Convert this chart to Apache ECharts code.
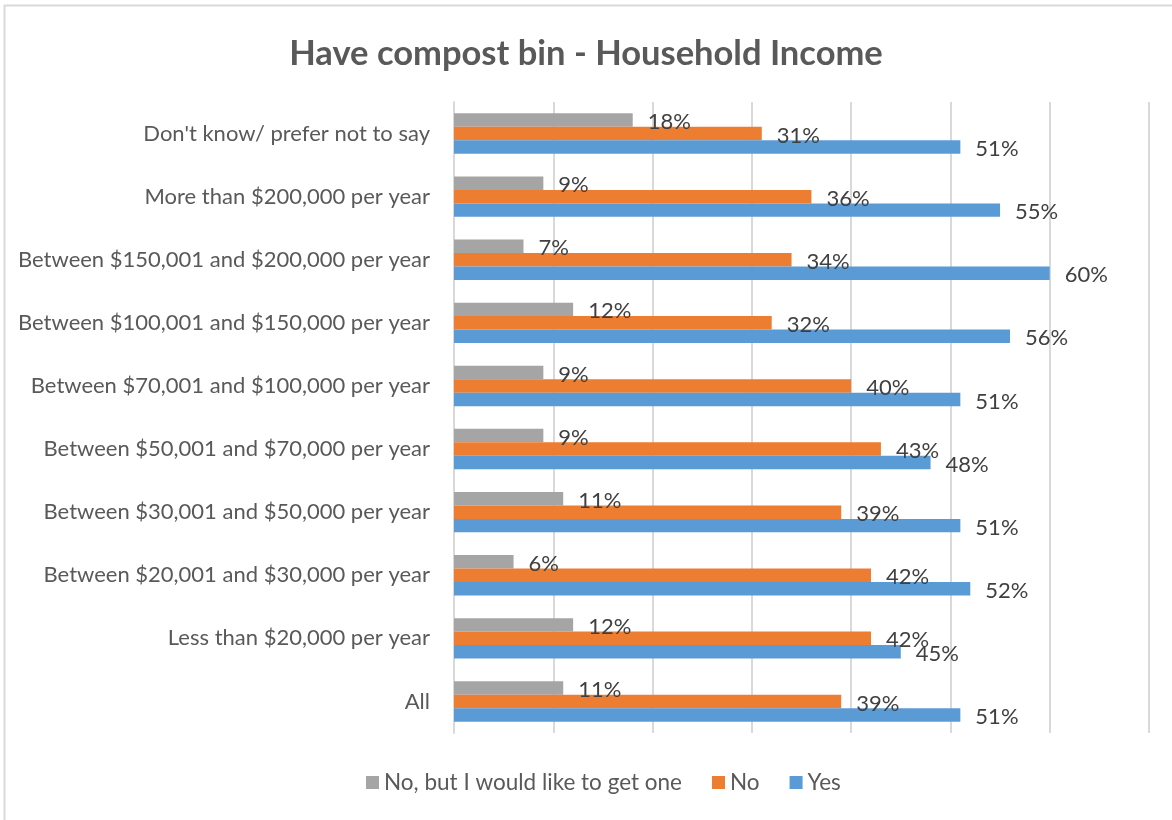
<!DOCTYPE html>
<html>
<head>
<meta charset="utf-8">
<script src="https://cdn.jsdelivr.net/npm/echarts@6/dist/echarts.min.js"></script>
<style>
  html, body { margin: 0; padding: 0; background: #ffffff; }
  #chart { width: 1172px; height: 820px; }
</style>
</head>
<body>
<div id="chart"></div>
<script>
// Income groups, bottom to top on the category axis
const categories = [
  'All',
  'Less than $20,000 per year',
  'Between $20,001 and $30,000 per year',
  'Between $30,001 and $50,000 per year',
  'Between $50,001 and $70,000 per year',
  'Between $70,001 and $100,000 per year',
  'Between $100,001 and $150,000 per year',
  'Between $150,001 and $200,000 per year',
  'More than $200,000 per year',
  "Don't know/ prefer not to say"
];

// Percentages per answer, same order as categories
const wouldLikeValues = [11, 12, 6, 11, 9, 9, 12, 7, 9, 18];
const noValues = [39, 42, 42, 39, 43, 40, 32, 34, 36, 31];
const yesValues = [51, 45, 52, 51, 48, 51, 56, 60, 55, 51];

const seriesNames = ['No, but I would like to get one', 'No', 'Yes'];

const FONT = 'Lato, "Open Sans", sans-serif';

const chart = echarts.init(document.getElementById('chart'), null, { renderer: 'canvas' });

function barSeries(name, values, color) {
  return {
    name: name,
    type: 'bar',
    data: values,
    barGap: '0%',
    barCategoryGap: '36%',
    itemStyle: { color: color },
    label: {
      show: true,
      position: 'right',
      distance: 15,
      formatter: '{c}%',
      color: '#404040',
      fontFamily: FONT,
      fontSize: 22,
      offset: [0, 2]
    }
  };
}

chart.setOption({
  backgroundColor: '#ffffff',
  animation: false,
  title: {
    text: 'Have compost bin - Household Income',
    left: 'center',
    top: 31,
    textStyle: {
      color: '#595959',
      fontFamily: FONT,
      fontWeight: 'bold',
      fontSize: 34.5
    }
  },
  legend: {
    data: seriesNames,
    bottom: 21,
    left: 361,
    itemWidth: 13,
    itemHeight: 13,
    itemGap: 30,
    itemTextGap: 7,
    icon: 'rect',
    textStyle: { color: '#595959', fontFamily: FONT, fontSize: 22.5 }
  },
  grid: { left: 454, right: 23, top: 102, bottom: 87, containLabel: false },
  xAxis: {
    type: 'value',
    min: 0,
    max: 70,
    interval: 10,
    axisLabel: { show: false },
    axisLine: { show: false },
    axisTick: { show: false },
    splitLine: { show: true, lineStyle: { color: '#d9d9d9', width: 2 } }
  },
  yAxis: {
    type: 'category',
    data: categories,
    axisLine: { show: true, lineStyle: { color: '#d9d9d9', width: 2 } },
    axisTick: { show: false },
    axisLabel: {
      color: '#595959',
      fontFamily: FONT,
      fontSize: 22,
      margin: 24
    }
  },
  graphic: [{
    type: 'rect',
    shape: { x: 4.5, y: 5.5, width: 1300, height: 1000 },
    style: { fill: null, stroke: '#d9d9d9', lineWidth: 2 },
    silent: true
  }],
  series: [
    barSeries(seriesNames[0], wouldLikeValues, '#A5A5A5'),
    barSeries(seriesNames[1], noValues, '#ED7D31'),
    barSeries(seriesNames[2], yesValues, '#5B9BD5')
  ]
});
</script>
</body>
</html>
